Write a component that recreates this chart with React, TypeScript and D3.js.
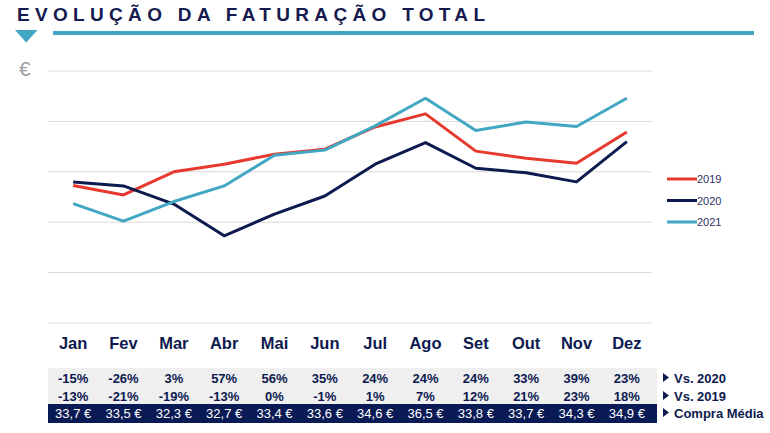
import { useEffect, useRef } from 'react';
import * as d3 from 'd3';

const months = ['Jan', 'Fev', 'Mar', 'Abr', 'Mai', 'Jun', 'Jul', 'Ago', 'Set', 'Out', 'Nov', 'Dez'];
const seriesNames = ['2019', '2020', '2021'];
// values, in gridline units (axis has no labels)
const values2019 = [2.73, 2.54, 3.0, 3.15, 3.35, 3.45, 3.89, 4.15, 3.41, 3.27, 3.17, 3.79];
const values2020 = [2.8, 2.72, 2.36, 1.73, 2.16, 2.52, 3.15, 3.58, 3.07, 2.98, 2.8, 3.6];
const values2021 = [2.37, 2.02, 2.41, 2.72, 3.33, 3.43, 3.91, 4.46, 3.82, 3.99, 3.9, 4.46];
const gridTicks = [0, 1, 2, 3, 4, 5];
const vs2020 = ['-15%', '-26%', '3%', '57%', '56%', '35%', '24%', '24%', '24%', '33%', '39%', '23%'];
const vs2019 = ['-13%', '-21%', '-19%', '-13%', '0%', '-1%', '1%', '7%', '12%', '21%', '23%', '18%'];
const compraMedia = ['33,7 €', '33,5 €', '32,3 €', '32,7 €', '33,4 €', '33,6 €', '34,6 €', '36,5 €', '33,8 €', '33,7 €', '34,3 €', '34,9 €'];
const rowLabels = ['Vs. 2020', 'Vs. 2019', 'Compra Média'];

const NAVY = '#0d1a4f';
const TEAL = '#41a7c2';
const RED = '#e8392f';
const FONT = '"Liberation Sans", Arial, sans-serif';

export default function App() {
    const svgRef = useRef<SVGSVGElement>(null);

    useEffect(() => {
        if (!svgRef.current) return;
        const width = 770;
        const height = 433;
        const svg = d3.select(svgRef.current);
        svg.selectAll('*').remove();
        svg.attr('width', width).attr('height', height).attr('viewBox', `0 0 ${width} ${height}`);

        // header
        svg.append('text')
            .attr('x', 17).attr('y', 21)
            .attr('font-family', FONT).attr('font-weight', 'bold').attr('font-size', 19)
            .attr('fill', '#151a4f')
            .attr('textLength', 468).attr('lengthAdjust', 'spacing')
            .text('EVOLUÇÃO DA FATURAÇÃO TOTAL');
        svg.append('path').attr('d', 'M15,30 L37.5,30 L26.2,42.5 Z').attr('fill', TEAL);
        svg.append('rect').attr('x', 53).attr('y', 31).attr('width', 701).attr('height', 4).attr('fill', TEAL);
        svg.append('text')
            .attr('x', 19).attr('y', 76)
            .attr('font-family', FONT).attr('font-size', 21).attr('fill', '#a0a0a0')
            .text('€');

        const x = d3.scaleBand().domain(months).range([48, 652]);
        const y = d3.scaleLinear().domain([0, 5]).range([323, 71]);
        const cx = (m: string) => (x(m) || 0) + x.bandwidth() / 2;

        // gridlines
        svg.append('g').selectAll('line')
            .data(gridTicks)
            .enter().append('line')
            .attr('x1', 48).attr('x2', 652)
            .attr('y1', d => y(d)).attr('y2', d => y(d))
            .attr('stroke', '#d9d9d9').attr('stroke-width', 1);

        // month labels
        svg.append('g').selectAll('text')
            .data(months)
            .enter().append('text')
            .attr('x', d => cx(d)).attr('y', 349)
            .attr('text-anchor', 'middle')
            .attr('font-family', FONT).attr('font-weight', 'bold').attr('font-size', 16.5)
            .attr('fill', NAVY)
            .text(d => d);

        // lines
        const series = [
            { name: seriesNames[0], values: values2019, color: RED },
            { name: seriesNames[1], values: values2020, color: NAVY },
            { name: seriesNames[2], values: values2021, color: TEAL },
        ];
        const line = d3.line<number>()
            .x((_, i) => cx(months[i]))
            .y(d => y(d));
        svg.append('g').selectAll('path')
            .data(series)
            .enter().append('path')
            .attr('d', d => line(d.values))
            .attr('fill', 'none')
            .attr('stroke', d => d.color)
            .attr('stroke-width', 3)
            .attr('stroke-linejoin', 'round');

        // legend
        const legend = svg.append('g').selectAll('g')
            .data(series)
            .enter().append('g')
            .attr('transform', (_, i) => `translate(667, ${179 + i * 21.5})`);
        legend.append('line')
            .attr('x1', 0).attr('x2', 30).attr('y1', 0).attr('y2', 0)
            .attr('stroke', d => d.color).attr('stroke-width', 3);
        legend.append('text')
            .attr('x', 30).attr('y', 4)
            .attr('font-family', FONT).attr('font-size', 11)
            .attr('fill', '#2d3166')
            .text(d => d.name);

        // table
        svg.append('rect').attr('x', 48).attr('y', 368).attr('width', 609).attr('height', 36).attr('fill', '#efefef');
        svg.append('rect').attr('x', 48).attr('y', 404).attr('width', 609).attr('height', 19).attr('fill', '#0a1a55');

        const rows = [
            { data: vs2020, y: 383, color: NAVY, weight: 'bold' },
            { data: vs2019, y: 401, color: NAVY, weight: 'bold' },
            { data: compraMedia, y: 418, color: '#ffffff', weight: 'normal' },
        ];
        rows.forEach(r => {
            svg.append('g').selectAll('text')
                .data(r.data)
                .enter().append('text')
                .attr('x', (_, i) => cx(months[i])).attr('y', r.y)
                .attr('text-anchor', 'middle')
                .attr('font-family', FONT).attr('font-weight', r.weight).attr('font-size', 13)
                .attr('fill', r.color)
                .text(d => d);
        });

        const labels = svg.append('g').selectAll('g')
            .data(rowLabels)
            .enter().append('g')
            .attr('transform', (_, i) => `translate(663, ${rows[i].y})`);
        labels.append('path').attr('d', 'M0,-10 L6,-5.5 L0,-1 Z').attr('fill', NAVY);
        labels.append('text')
            .attr('x', 11).attr('y', 0)
            .attr('font-family', FONT).attr('font-weight', 'bold').attr('font-size', 13)
            .attr('fill', NAVY)
            .text(d => d);
    }, []);

    return (
        <div style={{ position: 'absolute', top: 0, left: 0, background: '#fff' }}>
            <svg ref={svgRef} style={{ display: 'block' }} />
        </div>
    );
}
